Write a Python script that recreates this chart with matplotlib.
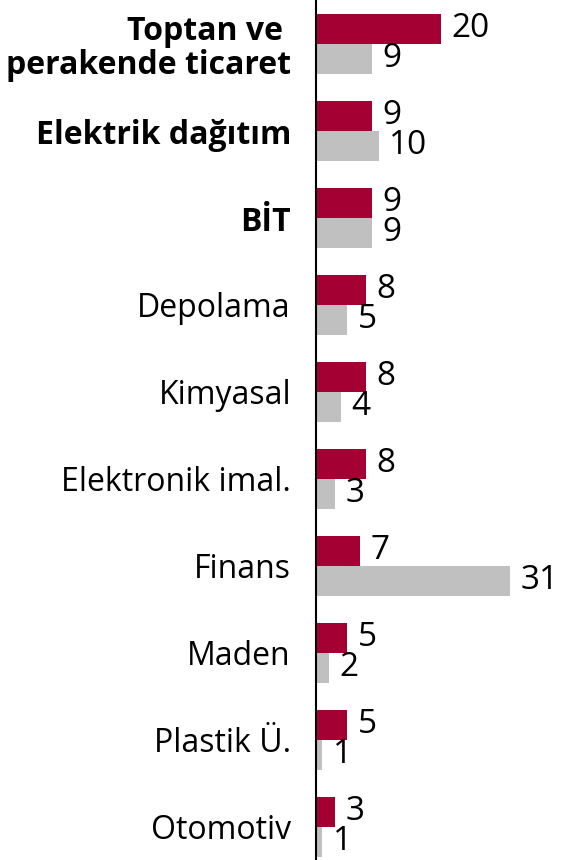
import numpy as np
import matplotlib.pyplot as plt

# chart data
categories = ['Toptan ve \nperakende ticaret', 'Elektrik dağıtım', 'BİT', 'Depolama',
              'Kimyasal', 'Elektronik imal.', 'Finans', 'Maden', 'Plastik Ü.', 'Otomotiv']
bold_rows = [0, 1, 2]
series_red = [20, 9, 9, 8, 8, 8, 7, 5, 5, 3]
series_gray = [9, 10, 9, 5, 4, 3, 31, 2, 1, 1]

plt.rcParams['font.family'] = ['Open Sans', 'DejaVu Sans']

fig = plt.figure(figsize=(5.61, 8.6), dpi=100)
ax = fig.add_axes([316 / 561, 0, 39 * 6.27 / 561, 1])

y = np.arange(len(categories))
h = 0.34
ax.barh(y - 0.175, series_red, height=h, color='#A50034')
ax.barh(y + 0.17, series_gray, height=h, color='#C0C0C0')

for i in range(len(categories)):
    ax.annotate(str(series_red[i]), (series_red[i], y[i] - 0.175), xytext=(7.5, 0),
                textcoords='offset points', va='center', ha='left', fontsize=24)
    ax.annotate(str(series_gray[i]), (series_gray[i], y[i] + 0.17), xytext=(7.5, 0),
                textcoords='offset points', va='center', ha='left', fontsize=24)

# the plot is cut at the bottom, last gray bar runs off the figure
ax.set_ylim(9.38, -0.506)
ax.set_xlim(0, 39)
ax.set_yticks(y)
ax.set_yticklabels(categories, fontsize=23, ha='right', linespacing=1.05)
for i, lbl in enumerate(ax.get_yticklabels()):
    if i in bold_rows:
        lbl.set_fontweight('bold')
ax.tick_params(axis='y', length=0, pad=18)
ax.set_xticks([])
for s in ['top', 'right', 'bottom']:
    ax.spines[s].set_visible(False)
ax.spines['left'].set_linewidth(1.5)

fig.savefig('out.png', dpi=100)
